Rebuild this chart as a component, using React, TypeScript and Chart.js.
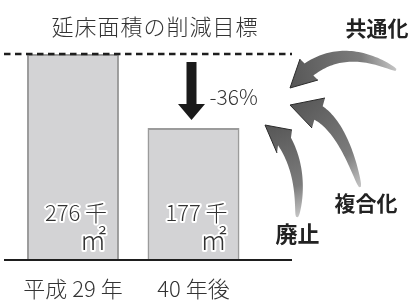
import React, { useEffect, useRef } from 'react';
import { Chart, registerables } from 'chart.js';

Chart.register(...registerables);

// ---- data ----
const categories = ['平成 29 年', '40 年後'];
const floorArea = [276, 177]; // 千㎡
const valueLabels = ['276 千', '177 千'];
const unitLabel = '㎡';
const changeLabel = '-36%';
const titleText = '延床面積の削減目標';
const measureLabels = ['共通化', '複合化', '廃止'];

const FONT = "'Noto Sans CJK JP', 'Noto Sans', sans-serif";

type P = [number, number];

function curvedArrow(
  ctx: CanvasRenderingContext2D,
  tail: P,
  ctrl: P,
  c1: P,
  c2: P,
  tip: P,
  wBase: number,
  wTail: number
) {
  const base: P = [(c1[0] + c2[0]) / 2, (c1[1] + c2[1]) / 2];
  const N = 40;
  const left: P[] = [];
  const right: P[] = [];
  for (let i = 0; i <= N; i++) {
    const t = i / N;
    const mt = 1 - t;
    const px = mt * mt * tail[0] + 2 * mt * t * ctrl[0] + t * t * base[0];
    const py = mt * mt * tail[1] + 2 * mt * t * ctrl[1] + t * t * base[1];
    const dx = 2 * mt * (ctrl[0] - tail[0]) + 2 * t * (base[0] - ctrl[0]);
    const dy = 2 * mt * (ctrl[1] - tail[1]) + 2 * t * (base[1] - ctrl[1]);
    const len = Math.hypot(dx, dy) || 1;
    const nx = -dy / len;
    const ny = dx / len;
    const w = (wTail + (wBase - wTail) * Math.pow(t, 0.55)) / 2;
    left.push([px + nx * w, py + ny * w]);
    right.push([px - nx * w, py - ny * w]);
  }
  const lEnd = left[N];
  const d1 = Math.hypot(c1[0] - lEnd[0], c1[1] - lEnd[1]);
  const d2 = Math.hypot(c2[0] - lEnd[0], c2[1] - lEnd[1]);
  const cl = d1 < d2 ? c1 : c2;
  const cr = d1 < d2 ? c2 : c1;

  const grad = ctx.createLinearGradient(tail[0], tail[1], tip[0], tip[1]);
  grad.addColorStop(0, '#c4c4c4');
  grad.addColorStop(0.3, '#7c7c7c');
  grad.addColorStop(1, '#565656');

  ctx.beginPath();
  ctx.moveTo(left[0][0], left[0][1]);
  for (let i = 1; i <= N; i++) ctx.lineTo(left[i][0], left[i][1]);
  ctx.lineTo(cl[0], cl[1]);
  ctx.lineTo(tip[0], tip[1]);
  ctx.lineTo(cr[0], cr[1]);
  for (let i = N; i >= 0; i--) ctx.lineTo(right[i][0], right[i][1]);
  ctx.closePath();
  ctx.fillStyle = grad;
  ctx.fill();

  // dark edge on head
  ctx.beginPath();
  ctx.moveTo(cl[0], cl[1]);
  ctx.lineTo(tip[0], tip[1]);
  ctx.lineTo(cr[0], cr[1]);
  ctx.strokeStyle = '#2a2a2a';
  ctx.lineWidth = 1;
  ctx.stroke();
}

const decorPlugin = {
  id: 'decor',
  afterDatasetsDraw(chart: any) {
    const ctx: CanvasRenderingContext2D = chart.ctx;
    const yScale = chart.scales.y;
    const meta = chart.getDatasetMeta(0);
    const y0 = yScale.getPixelForValue(0);
    const yTop = yScale.getPixelForValue(floorArea[0]);
    const lineL = 4;
    const lineR = 292;

    ctx.save();
    // dashed reference line
    ctx.strokeStyle = '#1e1e1e';
    ctx.lineWidth = 2.5;
    ctx.setLineDash([6.5, 4.5]);
    ctx.beginPath();
    ctx.moveTo(lineL, yTop);
    ctx.lineTo(lineR, yTop);
    ctx.stroke();
    ctx.setLineDash([]);

    // baseline
    ctx.lineWidth = 2;
    ctx.beginPath();
    ctx.moveTo(lineL, y0);
    ctx.lineTo(lineR, y0);
    ctx.stroke();

    // title
    ctx.fillStyle = '#333';
    ctx.font = `300 22px ${FONT}`;
    ctx.textAlign = 'center';
    ctx.textBaseline = 'middle';
    (ctx as any).letterSpacing = '1px';
    ctx.fillText(titleText, 155, 27);
    (ctx as any).letterSpacing = '0px';

    // bar labels with white halo
    meta.data.forEach((bar: any, i: number) => {
      const x = bar.x;
      ctx.textAlign = 'center';
      ctx.textBaseline = 'middle';
      ctx.lineJoin = 'round';
      ctx.strokeStyle = '#fff';
      ctx.lineWidth = 4;
      ctx.fillStyle = '#333';
      ctx.font = `300 22px ${FONT}`;
      ctx.strokeText(valueLabels[i], x + 3, y0 - 47);
      ctx.fillText(valueLabels[i], x + 3, y0 - 47);
      ctx.font = `300 27px ${FONT}`;
      ctx.strokeText(unitLabel, x + 20, y0 - 20);
      ctx.fillText(unitLabel, x + 20, y0 - 20);
    });

    // down arrow
    const b2 = meta.data[1];
    const ax = b2.x - 2;
    const aTop = yTop + 8;
    const aBot = b2.y - 8;
    const headH = 16;
    ctx.fillStyle = '#1a1a1a';
    ctx.beginPath();
    ctx.moveTo(ax - 5, aTop);
    ctx.lineTo(ax + 5, aTop);
    ctx.lineTo(ax + 5, aBot - headH);
    ctx.lineTo(ax + 13.5, aBot - headH);
    ctx.lineTo(ax, aBot);
    ctx.lineTo(ax - 13.5, aBot - headH);
    ctx.lineTo(ax - 5, aBot - headH);
    ctx.closePath();
    ctx.fill();

    // change label
    ctx.fillStyle = '#333';
    ctx.font = `300 21px ${FONT}`;
    ctx.textAlign = 'left';
    ctx.textBaseline = 'middle';
    ctx.fillText(changeLabel, ax + 18, (aTop + aBot) / 2 + 6);

    // curved arrows
    curvedArrow(ctx, [396, 70], [346, 43], [300, 59], [318, 80], [290, 88], 15, 2);
    curvedArrow(ctx, [360, 187], [343, 128], [325, 98], [312, 128], [290, 105], 16, 2);
    curvedArrow(ctx, [297, 217], [303, 173], [292, 130], [277, 153], [265, 125], 15, 2);

    // measure labels
    ctx.fillStyle = '#222';
    ctx.font = `bold 21px ${FONT}`;
    ctx.textAlign = 'center';
    ctx.textBaseline = 'middle';
    ctx.fillText(measureLabels[0], 377, 28);
    ctx.fillText(measureLabels[1], 366, 203);
    ctx.font = `bold 22px ${FONT}`;
    ctx.fillText(measureLabels[2], 297.5, 234);

    ctx.restore();
  },
};

export default function App() {
  const canvasRef = useRef<HTMLCanvasElement | null>(null);

  useEffect(() => {
    const canvas = canvasRef.current;
    if (!canvas) return;
    const chart = new Chart(canvas, {
      type: 'bar',
      data: {
        labels: categories,
        datasets: [
          {
            data: floorArea,
            backgroundColor: '#d3d3d5',
            borderColor: '#9b9b9b',
            borderWidth: 2,
            categoryPercentage: 1,
            barPercentage: 0.763,
          },
        ],
      },
      options: {
        responsive: false,
        animation: false,
        devicePixelRatio: 1,
        layout: { padding: { left: 12.75, right: 163.25, top: 54, bottom: 0 } },
        plugins: {
          legend: { display: false },
          tooltip: { enabled: false },
          title: { display: false },
        },
        scales: {
          x: {
            grid: { display: false, drawTicks: false },
            border: { display: false },
            ticks: {
              color: '#333',
              font: { family: FONT, size: 22, weight: '300' },
              padding: 15,
              maxRotation: 0,
              autoSkip: false,
            },
            afterFit: (s: any) => {
              s.height = 40;
            },
          },
          y: { display: false, min: 0, max: Math.max(...floorArea) },
        },
      },
      plugins: [decorPlugin],
    } as any);
    return () => chart.destroy();
  }, []);

  return (
    <div style={{ position: 'absolute', left: 0, top: 0, width: 417, height: 300, background: '#fff' }}>
      <canvas ref={canvasRef} width={417} height={300} style={{ display: 'block' }} />
    </div>
  );
}
